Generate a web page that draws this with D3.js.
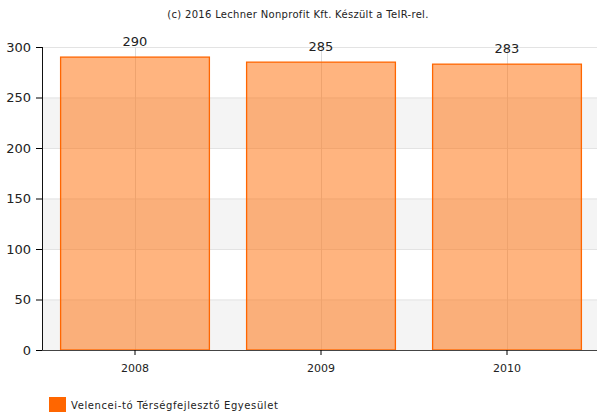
<!DOCTYPE html>
<html>
<head>
<meta charset="utf-8">
<script src="https://cdn.jsdelivr.net/npm/d3@7"></script>
<style>
  body { margin: 0; background: #fff; }
  text { font-family: "DejaVu Sans", Verdana, sans-serif; }
</style>
</head>
<body>
<svg width="597" height="412"></svg>
<script>
var years = ["2008", "2009", "2010"];
var values = [290, 285, 283];
var yTicks = [0, 50, 100, 150, 200, 250, 300];
var seriesName = "Velencei-tó Térségfejlesztő Egyesület";
var title = "(c) 2016 Lechner Nonprofit Kft. Készült a TeIR-rel.";

var svg = d3.select("svg");
var plotLeft = 42, plotRight = 600, plotTop = 47, plotBottom = 350;

var x = d3.scaleBand().domain(years).range([plotLeft, plotRight]).paddingInner(0.2).paddingOuter(0.1);
var y = d3.scaleLinear().domain([0, 300]).range([plotBottom, plotTop]);

// alternating bands
for (var i = 0; i < yTicks.length - 1; i++) {
  if (i % 2 == 0) {
    svg.append("rect")
      .attr("x", plotLeft).attr("width", 597 - plotLeft)
      .attr("y", y(yTicks[i + 1])).attr("height", y(yTicks[i]) - y(yTicks[i + 1]))
      .attr("fill", "#f4f4f4");
  }
}

// horizontal grid
svg.selectAll(".hgrid").data(yTicks.slice(1)).enter().append("line")
  .attr("x1", plotLeft).attr("x2", 597)
  .attr("y1", function(d) { return y(d) + 0.5; })
  .attr("y2", function(d) { return y(d) + 0.5; })
  .attr("stroke", "#e3e3e3");

// vertical grid at category centers
svg.selectAll(".vgrid").data(years).enter().append("line")
  .attr("x1", function(d) { return Math.round(x(d) + x.bandwidth() / 2) + 0.5; })
  .attr("x2", function(d) { return Math.round(x(d) + x.bandwidth() / 2) + 0.5; })
  .attr("y1", plotTop).attr("y2", plotBottom)
  .attr("stroke", "#dcdcdc");

// bars
svg.selectAll(".bar").data(values).enter().append("rect")
  .attr("x", function(d, i) { return x(years[i]); })
  .attr("width", x.bandwidth())
  .attr("y", function(d) { return y(d); })
  .attr("height", function(d) { return plotBottom - y(d); })
  .attr("fill", "#ff6a00").attr("fill-opacity", 0.5)
  .attr("stroke", "#ff6600").attr("stroke-width", 1.3);

// value labels
svg.selectAll(".val").data(values).enter().append("text")
  .attr("x", function(d, i) { return x(years[i]) + x.bandwidth() / 2; })
  .attr("y", function(d) { return y(d) - 11; })
  .attr("text-anchor", "middle")
  .attr("font-size", 13).attr("fill", "#222")
  .text(function(d) { return d; });

// axes
var yAxis = svg.append("g").attr("transform", "translate(" + plotLeft + ",0)")
  .call(d3.axisLeft(y).tickValues(yTicks).tickSize(6).tickPadding(5));
yAxis.select(".domain").attr("stroke", "#111").attr("d", "M0.5," + plotTop + "V" + plotBottom);
yAxis.selectAll("text").attr("font-size", 13).attr("fill", "#222")
  .style("font-family", "DejaVu Sans, Verdana, sans-serif");

var xAxis = svg.append("g").attr("transform", "translate(0," + plotBottom + ")")
  .call(d3.axisBottom(x).tickSize(5).tickPadding(9));
xAxis.select(".domain").attr("stroke", "#444").attr("d", "M" + plotLeft + ",0.5H597");
xAxis.selectAll("text").attr("font-size", 11).attr("fill", "#222")
  .style("font-family", "DejaVu Sans, Verdana, sans-serif");

// title
svg.append("text").attr("x", 298).attr("y", 18).attr("text-anchor", "middle")
  .attr("font-size", 10).attr("fill", "#222").attr("letter-spacing", 0.3).text(title);

// legend
svg.append("rect").attr("x", 49).attr("y", 397).attr("width", 17).attr("height", 15).attr("fill", "#ff6600");
svg.append("text").attr("x", 71).attr("y", 409).attr("font-size", 10).attr("fill", "#222")
  .attr("letter-spacing", 0.6).text(seriesName);
</script>
</body>
</html>
